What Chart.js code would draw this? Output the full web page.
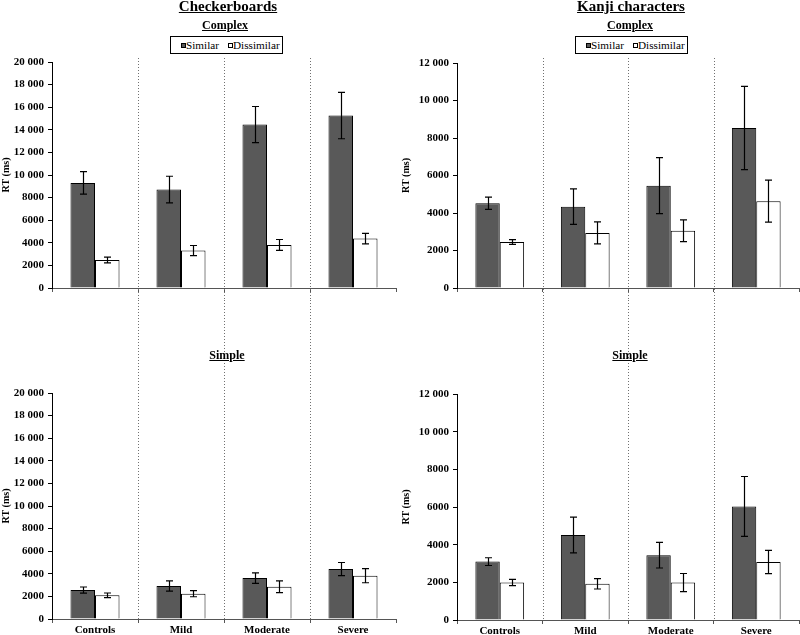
<!DOCTYPE html>
<html><head><meta charset="utf-8">
<script src="https://cdn.jsdelivr.net/npm/chart.js@4/dist/chart.umd.min.js"></script>
<style>
html,body{margin:0;padding:0;background:#fff;}
#wrap{position:relative;width:800px;height:635px;overflow:hidden;font-family:"Liberation Serif","Times New Roman",serif;color:#000;}
canvas{position:absolute;}
.t{position:absolute;font-family:"Liberation Serif",serif;font-weight:bold;text-decoration:underline;white-space:nowrap;transform:translateX(-50%);line-height:1;z-index:5;}
.lg{position:absolute;border:1px solid #000;box-sizing:border-box;background:#fff;z-index:5;font-family:"Liberation Serif",serif;font-size:11.2px;}
.lg span{position:absolute;line-height:1;white-space:nowrap;font-family:"Liberation Serif",serif;}
.lg i{position:absolute;width:5px;height:5px;box-sizing:border-box;border:1px solid #000;}
</style>
</head>
<body>
<div id="wrap">
  <canvas id="c1" width="400" height="300" style="left:0;top:0"></canvas>
  <canvas id="c2" width="400" height="300" style="left:400px;top:0"></canvas>
  <canvas id="c3" width="400" height="335" style="left:0;top:300px"></canvas>
  <canvas id="c4" width="400" height="335" style="left:400px;top:300px"></canvas>
</div>
<script>
// ---- data ----
const groups = ['Controls', 'Mild', 'Moderate', 'Severe'];
const seriesNames = ['Similar', 'Dissimilar'];
const panelTitles = ['Checkerboards', 'Kanji characters'];
const conditionTitles = ['Complex', 'Simple'];
const axisTitle = 'RT (ms)';

const checkComplexSim = [9300, 8710, 14460, 15260];
const checkComplexSimErr = [1000, 1180, 1600, 2050];
const checkComplexDis = [2480, 3310, 3810, 4370];
const checkComplexDisErr = [250, 450, 480, 470];

const checkSimpleSim = [2560, 2920, 3620, 4420];
const checkSimpleSimErr = [270, 450, 460, 580];
const checkSimpleDis = [2100, 2240, 2860, 3830];
const checkSimpleDisErr = [200, 270, 520, 620];

const kanjiComplexSim = [4520, 4340, 5460, 8530];
const kanjiComplexSimErr = [330, 950, 1490, 2220];
const kanjiComplexDis = [2450, 2940, 3050, 4630];
const kanjiComplexDisErr = [125, 590, 580, 1120];

const kanjiSimpleSim = [3100, 4510, 3440, 6030];
const kanjiSimpleSimErr = [205, 950, 680, 1590];
const kanjiSimpleDis = [1990, 1920, 1990, 3080];
const kanjiSimpleDisErr = [170, 275, 480, 620];

const checkMax = 20000, kanjiMax = 12000, tickStep = 2000;

// ---- titles & legends (HTML text) ----
const wrap = document.getElementById('wrap');
function addText(txt, cx, top, size) {
  const d = document.createElement('div');
  d.className = 't'; d.textContent = txt;
  d.style.left = cx + 'px'; d.style.top = top + 'px'; d.style.fontSize = size + 'px';
  wrap.appendChild(d);
}
addText(panelTitles[0], 228, -1.5, 15);
addText(panelTitles[1], 631, -1.5, 15);
addText(conditionTitles[0], 225, 18.5, 12);
addText(conditionTitles[0], 630, 18.5, 12);
addText(conditionTitles[1], 227, 349, 12);
addText(conditionTitles[1], 630, 349, 12);

function addLegend(left) {
  const b = document.createElement('div');
  b.className = 'lg';
  b.style.left = left + 'px'; b.style.top = '36px'; b.style.width = '113px'; b.style.height = '18px';
  const fills = ['#595959', '#ffffff'];
  const sqX = [10, 57], txX = [15, 62];
  seriesNames.forEach((n, k) => {
    const s = document.createElement('i');
    s.style.left = sqX[k] + 'px'; s.style.top = '6px'; s.style.background = fills[k];
    b.appendChild(s);
    const t = document.createElement('span');
    t.textContent = n; t.style.left = txX[k] + 'px'; t.style.top = '3px';
    b.appendChild(t);
  });
  wrap.appendChild(b);
}
addLegend(170);
addLegend(575);

// ---- plugins ----
const errorBars = {
  id: 'errorBars',
  afterDatasetsDraw(chart) {
    const ctx = chart.ctx, y = chart.scales.y;
    ctx.save();
    ctx.strokeStyle = '#000'; ctx.lineWidth = 1.2;
    chart.data.datasets.forEach((ds, di) => {
      const meta = chart.getDatasetMeta(di);
      meta.data.forEach((bar, i) => {
        const v = ds.data[i], e = ds.errors[i];
        const x = Math.round(bar.x) + 0.5;
        const yt = y.getPixelForValue(v + e), yb = y.getPixelForValue(v - e);
        ctx.beginPath();
        ctx.moveTo(x, yt); ctx.lineTo(x, yb);
        ctx.moveTo(x - 3.5, yt); ctx.lineTo(x + 3.5, yt);
        ctx.moveTo(x - 3.5, yb); ctx.lineTo(x + 3.5, yb);
        ctx.stroke();
      });
    });
    ctx.restore();
  }
};
const separators = {
  id: 'separators',
  beforeDatasetsDraw(chart, args, opts) {
    const ctx = chart.ctx, xs = chart.scales.x;
    const y0 = opts.top ? 58 : 0;
    const y1 = opts.top ? chart.height : chart.chartArea.bottom;
    ctx.save();
    ctx.strokeStyle = '#707070'; ctx.lineWidth = 1; ctx.setLineDash([1, 2]);
    for (let i = 0; i < groups.length - 1; i++) {
      const x = Math.round((xs.getPixelForValue(i) + xs.getPixelForValue(i + 1)) / 2) + 0.5;
      ctx.beginPath(); ctx.moveTo(x, y0); ctx.lineTo(x, y1); ctx.stroke();
    }
    ctx.restore();
  }
};

function fmt(v) {
  const s = String(v);
  return v >= 10000 ? s.slice(0, -3) + ' ' + s.slice(-3) : s;
}

function makeChart(id, sim, simErr, dis, disErr, max, area, isTop) {
  const c = document.getElementById(id);
  const H = c.height, W = c.width;
  return new Chart(c, {
    type: 'bar',
    data: {
      labels: groups,
      datasets: [
        { label: seriesNames[0], data: sim, errors: simErr, backgroundColor: '#595959', borderColor: '#000', borderWidth: 1 },
        { label: seriesNames[1], data: dis, errors: disErr, backgroundColor: '#ffffff', borderColor: '#000', borderWidth: 1 }
      ]
    },
    options: {
      responsive: false, animation: false, devicePixelRatio: 1,
      categoryPercentage: 0.57, barPercentage: 1.0,
      layout: { padding: { left: 0, right: W - area.right, top: area.top, bottom: 0 } },
      plugins: { legend: { display: false }, tooltip: { enabled: false }, separators: { top: isTop } },
      scales: {
        x: {
          grid: { display: true, drawOnChartArea: false, offset: true, tickLength: 4, color: '#555' },
          border: { display: true, color: '#555', width: 1 },
          ticks: { display: !isTop, color: '#000', padding: 1, font: { family: 'Liberation Serif', weight: 'bold', size: 11 } },
          afterFit(s) { s.height = H - area.bottom; }
        },
        y: {
          min: 0, max: max,
          grid: { display: true, drawOnChartArea: false, tickLength: 4, color: '#000' },
          border: { display: true, color: '#000', width: 1 },
          ticks: { stepSize: tickStep, color: '#000', padding: 4, callback: fmt,
                   font: { family: 'Liberation Serif', weight: 'bold', size: 11 } },
          title: { display: true, text: axisTitle, color: '#000', padding: { top: 0, bottom: 0 },
                   font: { family: 'Liberation Serif', weight: 'bold', size: 10 } },
          afterFit(s) { s.width = area.left; }
        }
      }
    },
    plugins: [errorBars, separators]
  });
}

makeChart('c1', checkComplexSim, checkComplexSimErr, checkComplexDis, checkComplexDisErr, checkMax,
  { left: 52, right: 396, top: 62, bottom: 288 }, true);
makeChart('c2', kanjiComplexSim, kanjiComplexSimErr, kanjiComplexDis, kanjiComplexDisErr, kanjiMax,
  { left: 57, right: 399, top: 63, bottom: 288 }, true);
makeChart('c3', checkSimpleSim, checkSimpleSimErr, checkSimpleDis, checkSimpleDisErr, checkMax,
  { left: 52, right: 396, top: 93, bottom: 319 }, false);
makeChart('c4', kanjiSimpleSim, kanjiSimpleSimErr, kanjiSimpleDis, kanjiSimpleDisErr, kanjiMax,
  { left: 57, right: 399, top: 94, bottom: 320 }, false);
</script>
</body></html>
